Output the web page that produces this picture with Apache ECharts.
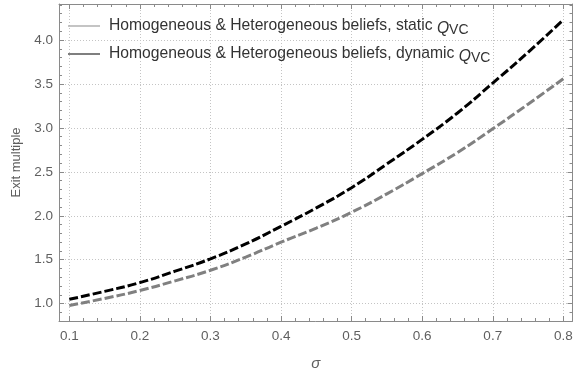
<!DOCTYPE html>
<html>
<head>
<meta charset="utf-8">
<script src="https://cdn.jsdelivr.net/npm/echarts@6/dist/echarts.min.js"></script>
<style>
html,body{margin:0;padding:0;background:#fff;}
#c{width:573px;height:374px;}
</style>
</head>
<body>
<div id="c"></div>
<script>
const sigma = [0.1, 0.15, 0.2, 0.25, 0.3, 0.35, 0.4, 0.45, 0.5, 0.55, 0.6, 0.65, 0.7, 0.75, 0.8];
const staticQ = [0.98, 1.06, 1.15, 1.26, 1.38, 1.53, 1.70, 1.86, 2.04, 2.25, 2.48, 2.72, 2.99, 3.27, 3.56];
const dynamicQ = [1.05, 1.14, 1.24, 1.37, 1.51, 1.68, 1.88, 2.09, 2.32, 2.59, 2.87, 3.17, 3.51, 3.86, 4.23];
const xTicks = [0.1, 0.2, 0.3, 0.4, 0.5, 0.6, 0.7, 0.8];
const yTicks = [1.0, 1.5, 2.0, 2.5, 3.0, 3.5, 4.0];
const seriesNames = ['static', 'dynamic'];
const legendText = 'Homogeneous & Heterogeneous beliefs, ';
const xName = 'σ';
const yName = 'Exit multiple';

const X_MIN = 0.0854, X_MAX = 0.813;
const Y_MIN = 0.803, Y_MAX = 4.41;

function r(v) { return Math.round(v * 1000) / 1000; }
const xMinor = [];
for (let i = 0; i < xTicks.length - 1; i++) {
  const step = (xTicks[i + 1] - xTicks[i]) / 5;
  for (let k = 1; k < 5; k++) xMinor.push(r(xTicks[i] + k * step));
}
const yMinor = [];
{
  const step = (yTicks[1] - yTicks[0]) / 5;
  for (let v = yTicks[0] - step; v >= Y_MIN; v -= step) yMinor.push(r(v));
  for (let i = 0; i < yTicks.length - 1; i++) {
    for (let k = 1; k < 5; k++) yMinor.push(r(yTicks[i] + k * step));
  }
  for (let v = yTicks[yTicks.length - 1] + step; v <= Y_MAX; v += step) yMinor.push(r(v));
}

const AX = '#8a8a8a';
const LBL = '#5f5f5f';
const FONT = 'Liberation Sans';

function xAx(pos, values, len, main, grid) {
  return {
    type: 'value', position: pos, min: X_MIN, max: X_MAX,
    axisLine: { show: main, lineStyle: { color: AX, width: 1 } },
    axisTick: { show: true, inside: true, length: len, customValues: values, lineStyle: { color: AX, width: 1 } },
    axisLabel: (main && pos === 'bottom') ? { show: true, customValues: xTicks, margin: 8, color: LBL, fontSize: 13.5, fontFamily: FONT, formatter: v => v.toFixed(1) } : { show: false },
    splitLine: grid ? { show: true, lineStyle: { color: '#c4c4c4', width: 1, type: [1, 2] } } : { show: false },
    name: (main && pos === 'bottom') ? xName : '',
    nameLocation: 'middle', nameGap: 35,
    nameTextStyle: { fontSize: 15, fontStyle: 'italic', color: LBL, fontFamily: FONT }
  };
}
function yAx(pos, values, len, main, grid) {
  return {
    type: 'value', position: pos, min: Y_MIN, max: Y_MAX,
    axisLine: { show: main, lineStyle: { color: AX, width: 1 } },
    axisTick: { show: true, inside: true, length: len, customValues: values, lineStyle: { color: AX, width: 1 } },
    axisLabel: (main && pos === 'left') ? { show: true, customValues: yTicks, margin: 6, color: LBL, fontSize: 13.5, fontFamily: FONT, formatter: v => v.toFixed(1) } : { show: false },
    splitLine: grid ? { show: true, lineStyle: { color: '#c4c4c4', width: 1, type: [1, 2] } } : { show: false },
    name: (main && pos === 'left') ? yName : '',
    nameLocation: 'middle', nameGap: 35,
    nameTextStyle: { fontSize: 13, color: LBL, fontFamily: FONT }
  };
}

const chart = echarts.init(document.getElementById('c'), null, { renderer: 'canvas' });
chart.setOption({
  animation: false,
  backgroundColor: '#fff',
  textStyle: { fontFamily: FONT },
  grid: { left: 59, right: 0.5, top: 4, bottom: 53, containLabel: false, outerBoundsMode: 'none' },
  xAxis: [
    xAx('bottom', xTicks, 5, true, true),
    xAx('bottom', xMinor, 3, false, false),
    xAx('top', xTicks, 5, true, false),
    xAx('top', xMinor, 3, false, false)
  ],
  yAxis: [
    yAx('left', yTicks, 5, true, true),
    yAx('left', yMinor, 3, false, false),
    yAx('right', yTicks, 5, true, false),
    yAx('right', yMinor, 3, false, false)
  ],
  legend: {
    orient: 'vertical', left: 63, top: 13, itemGap: 9,
    itemWidth: 32, itemHeight: 1.5,
    data: [
      { name: seriesNames[0], icon: 'rect', itemStyle: { color: '#b0b0b0' } },
      { name: seriesNames[1], icon: 'rect', itemStyle: { color: '#555555' } }
    ],
    formatter: n => '{t|' + legendText + n + ' }{q|Q}{s|VC}',
    textStyle: {
      fontFamily: FONT, fontSize: 15.7, color: '#333',
      rich: {
        t: { fontSize: 15.7, color: '#333', lineHeight: 22, padding: [0, 0, 0, 4], fontFamily: FONT },
        q: { fontSize: 15.7, fontStyle: 'italic', color: '#333', lineHeight: 18, verticalAlign: 'bottom', fontFamily: FONT },
        s: { fontSize: 14, color: '#333', lineHeight: 7, verticalAlign: 'bottom', fontFamily: FONT }
      }
    }
  },
  series: [
    {
      name: seriesNames[0], type: 'line', xAxisIndex: 0, yAxisIndex: 0,
      data: sigma.map((s, i) => [s, staticQ[i]]),
      smooth: true, symbol: 'none', showSymbol: false,
      lineStyle: { color: '#808080', width: 3, type: [9, 3] },
      itemStyle: { color: '#808080' }, z: 3
    },
    {
      name: seriesNames[1], type: 'line', xAxisIndex: 0, yAxisIndex: 0,
      data: sigma.map((s, i) => [s, dynamicQ[i]]),
      smooth: true, symbol: 'none', showSymbol: false,
      lineStyle: { color: '#000', width: 3, type: [9, 3] },
      itemStyle: { color: '#000' }, z: 4
    }
  ]
});
</script>
</body>
</html>
